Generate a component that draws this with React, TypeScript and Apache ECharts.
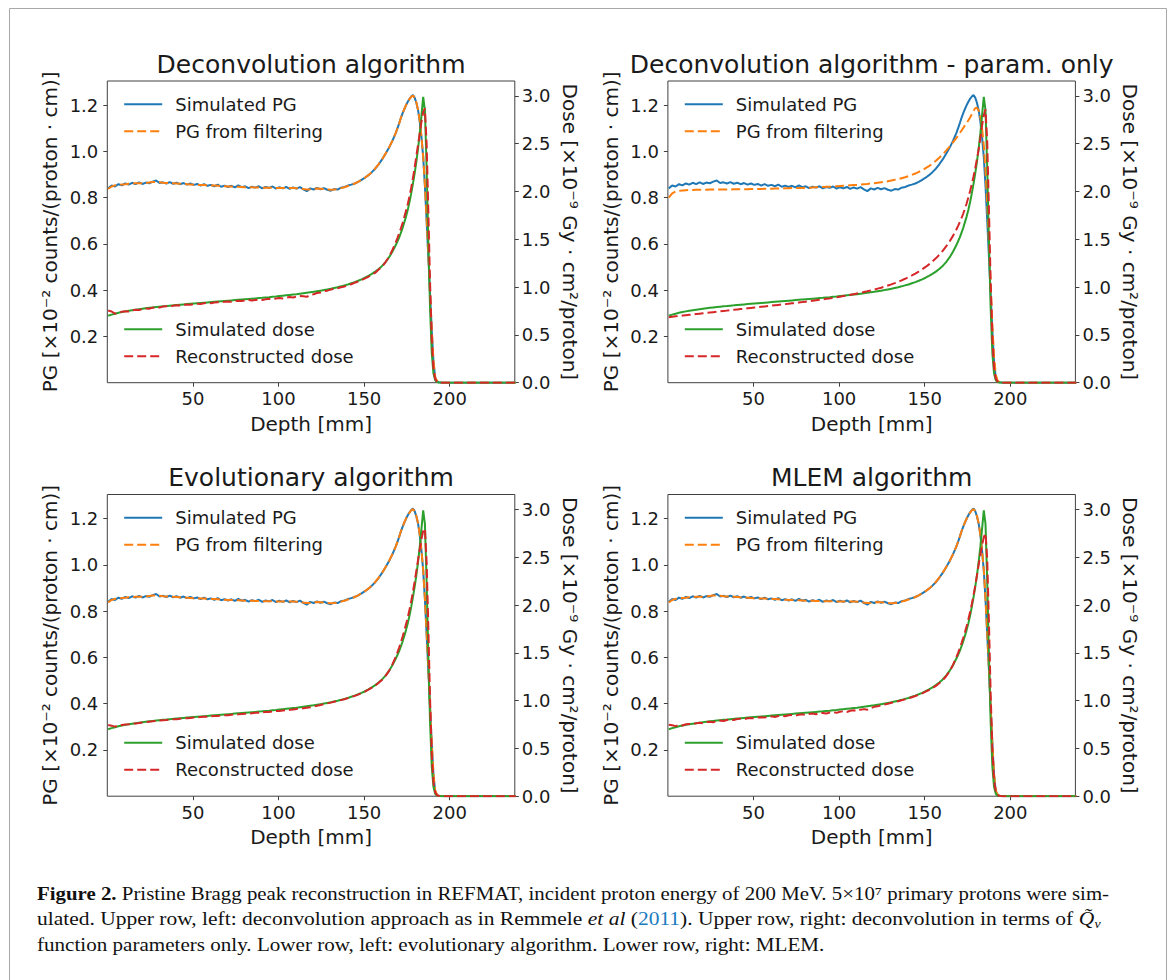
import React, { useEffect, useRef } from 'react';
import * as echarts from 'echarts';

// ---------------- data ----------------
const DEPTH = [
  0.5, 2.5, 4.5, 6.5, 8.5, 10.5, 12.5, 14.5, 16.5, 18.5,
  20.5, 22.5, 24.5, 26.5, 28.5, 30.5, 32.5, 34.5, 36.5, 38.5,
  40.5, 42.5, 44.5, 46.5, 48.5, 50.5, 52.5, 54.5, 56.5, 58.5,
  60.5, 62.5, 64.5, 66.5, 68.5, 70.5, 72.5, 74.5, 76.5, 78.5,
  80.5, 82.5, 84.5, 86.5, 88.5, 90.5, 92.5, 94.5, 96.5, 98.5,
  100.5, 102.5, 104.5, 106.5, 108.5, 110.5, 112.5, 114.5, 116.5, 118.5,
  120.5, 122.5, 124.5, 126.5, 128.5, 130.5, 132.5, 134.5, 136.5, 138.5,
  140.5, 142.5, 144.5, 146.5, 148.5, 150.5, 152.5, 154.5, 156.5, 158.5,
  160.5, 162.5, 164.5, 166.5, 168.5,
  169.5, 170.5, 171.5, 172.5, 173.5, 174.5, 175.5, 176.5, 177.5, 178.5,
  179.5, 180.5, 181.5, 182.5, 183.5, 184.5, 185.5, 186.5, 187.5, 188.5,
  189.5, 190.5, 191.5, 192.5, 193.5, 194.5, 195.5,
  200.5, 238.5,
];

const SIM_PG = [
  0.840, 0.852, 0.848, 0.858, 0.853, 0.861, 0.856, 0.864, 0.858, 0.866,
  0.859, 0.865, 0.862, 0.869, 0.874, 0.863, 0.866, 0.861, 0.867, 0.860,
  0.864, 0.858, 0.863, 0.856, 0.861, 0.855, 0.859, 0.852, 0.858, 0.851,
  0.855, 0.849, 0.856, 0.847, 0.852, 0.846, 0.851, 0.844, 0.853, 0.845,
  0.849, 0.841, 0.847, 0.843, 0.849, 0.840, 0.846, 0.842, 0.848, 0.839,
  0.845, 0.840, 0.846, 0.838, 0.844, 0.839, 0.845, 0.836, 0.828, 0.840,
  0.835, 0.842, 0.836, 0.841, 0.834, 0.830, 0.837, 0.835, 0.843, 0.846,
  0.852, 0.856, 0.861, 0.868, 0.877, 0.886, 0.897, 0.910, 0.925, 0.944,
  0.965, 0.990, 1.015, 1.045, 1.080,
  1.100, 1.122, 1.145, 1.165, 1.183, 1.200, 1.214, 1.227, 1.237, 1.243,
  1.232, 1.210, 1.178, 1.128, 1.060, 0.975, 0.850, 0.700, 0.545, 0.385,
  0.225, 0.090, 0.022, 0.006, 0.002, 0.001, 0,
  0, 0,
];

const FILT_PG = [
  0.838, 0.848, 0.853, 0.855, 0.857, 0.858, 0.860, 0.861, 0.862, 0.862,
  0.862, 0.863, 0.865, 0.867, 0.868, 0.866, 0.864, 0.863, 0.863, 0.862,
  0.861, 0.860, 0.859, 0.858, 0.857, 0.856, 0.855, 0.855, 0.854, 0.853,
  0.852, 0.852, 0.851, 0.850, 0.849, 0.848, 0.848, 0.847, 0.847, 0.846,
  0.845, 0.845, 0.845, 0.844, 0.844, 0.843, 0.843, 0.843, 0.843, 0.842,
  0.842, 0.842, 0.841, 0.841, 0.841, 0.840, 0.840, 0.837, 0.835, 0.836,
  0.838, 0.839, 0.838, 0.837, 0.835, 0.834, 0.835, 0.837, 0.841, 0.845,
  0.850, 0.855, 0.861, 0.868, 0.877, 0.886, 0.897, 0.910, 0.926, 0.945,
  0.966, 0.990, 1.016, 1.046, 1.080,
  1.100, 1.122, 1.145, 1.166, 1.184, 1.200, 1.214, 1.226, 1.236, 1.241,
  1.232, 1.211, 1.180, 1.130, 1.062, 0.978, 0.855, 0.705, 0.550, 0.390,
  0.230, 0.095, 0.025, 0.008, 0.003, 0.001, 0,
  0, 0,
];

const FILT_PG_PARAM = [
  0.800, 0.818, 0.826, 0.829, 0.831, 0.832, 0.833, 0.833, 0.834, 0.834,
  0.834, 0.834, 0.835, 0.835, 0.835, 0.835, 0.835, 0.835, 0.835, 0.836,
  0.836, 0.836, 0.836, 0.836, 0.837, 0.837, 0.837, 0.837, 0.838, 0.838,
  0.838, 0.839, 0.839, 0.839, 0.840, 0.840, 0.841, 0.841, 0.842, 0.842,
  0.843, 0.843, 0.844, 0.845, 0.845, 0.846, 0.847, 0.847, 0.848, 0.849,
  0.850, 0.851, 0.852, 0.853, 0.854, 0.855, 0.856, 0.858, 0.859, 0.861,
  0.862, 0.864, 0.866, 0.868, 0.871, 0.874, 0.877, 0.880, 0.884, 0.888,
  0.893, 0.898, 0.904, 0.911, 0.918, 0.927, 0.936, 0.947, 0.959, 0.972,
  0.987, 1.003, 1.020, 1.039, 1.058,
  1.068, 1.079, 1.090, 1.101, 1.112, 1.123, 1.134, 1.146, 1.160, 1.175,
  1.186, 1.188, 1.176, 1.148, 1.098, 1.025, 0.915, 0.770, 0.600, 0.420,
  0.250, 0.110, 0.035, 0.010, 0.003, 0.001, 0,
  0, 0,
];

const SIM_DOSE = [
  0.700, 0.712, 0.722, 0.731, 0.739, 0.746, 0.752, 0.758, 0.764, 0.769,
  0.774, 0.779, 0.783, 0.787, 0.791, 0.795, 0.799, 0.802, 0.806, 0.809,
  0.813, 0.816, 0.819, 0.822, 0.825, 0.828, 0.831, 0.834, 0.837, 0.840,
  0.843, 0.846, 0.849, 0.852, 0.855, 0.858, 0.861, 0.864, 0.867, 0.870,
  0.873, 0.876, 0.879, 0.882, 0.885, 0.888, 0.892, 0.895, 0.899, 0.902,
  0.906, 0.910, 0.914, 0.918, 0.922, 0.926, 0.931, 0.936, 0.941, 0.946,
  0.951, 0.957, 0.963, 0.969, 0.976, 0.983, 0.991, 0.999, 1.008, 1.018,
  1.028, 1.040, 1.052, 1.066, 1.081, 1.098, 1.117, 1.138, 1.162, 1.190,
  1.222, 1.262, 1.310, 1.370, 1.440,
  1.480, 1.520, 1.570, 1.620, 1.680, 1.740, 1.810, 1.890, 1.980, 2.080,
  2.190, 2.310, 2.450, 2.610, 2.800, 2.990, 2.850, 2.250, 1.480, 0.780,
  0.310, 0.095, 0.025, 0.006, 0.002, 0.001, 0,
  0, 0,
];

const RECON_DECONV = [
  0.755, 0.745, 0.722, 0.728, 0.742, 0.748, 0.745, 0.757, 0.763, 0.760,
  0.771, 0.776, 0.774, 0.785, 0.789, 0.786, 0.796, 0.800, 0.797, 0.806,
  0.809, 0.808, 0.815, 0.817, 0.815, 0.822, 0.826, 0.824, 0.831, 0.834,
  0.832, 0.839, 0.842, 0.840, 0.846, 0.849, 0.846, 0.853, 0.857, 0.855,
  0.861, 0.864, 0.860, 0.866, 0.870, 0.866, 0.873, 0.877, 0.873, 0.881,
  0.886, 0.882, 0.890, 0.896, 0.892, 0.901, 0.908, 0.905, 0.898, 0.918,
  0.926, 0.938, 0.944, 0.958, 0.963, 0.974, 0.982, 0.989, 0.998, 1.007,
  1.019, 1.030, 1.046, 1.058, 1.073, 1.092, 1.108, 1.132, 1.150, 1.185,
  1.214, 1.262, 1.315, 1.388, 1.470,
  1.515, 1.565, 1.615, 1.672, 1.735, 1.800, 1.870, 1.950, 2.040, 2.140,
  2.250, 2.370, 2.490, 2.610, 2.730, 2.830, 2.870, 2.500, 1.800, 1.050,
  0.450, 0.140, 0.040, 0.012, 0.004, 0.001, 0,
  0, 0,
];

const RECON_PARAM = [
  0.685, 0.690, 0.694, 0.698, 0.702, 0.706, 0.710, 0.714, 0.718, 0.722,
  0.726, 0.730, 0.734, 0.738, 0.742, 0.746, 0.750, 0.754, 0.758, 0.762,
  0.766, 0.770, 0.774, 0.778, 0.782, 0.786, 0.790, 0.794, 0.798, 0.802,
  0.806, 0.810, 0.814, 0.818, 0.822, 0.826, 0.830, 0.834, 0.839, 0.843,
  0.848, 0.852, 0.857, 0.862, 0.867, 0.872, 0.877, 0.882, 0.888, 0.894,
  0.900, 0.906, 0.912, 0.919, 0.926, 0.933, 0.940, 0.948, 0.956, 0.965,
  0.974, 0.984, 0.994, 1.005, 1.017, 1.029, 1.042, 1.056, 1.071, 1.087,
  1.104, 1.122, 1.142, 1.163, 1.186, 1.211, 1.238, 1.268, 1.301, 1.338,
  1.379, 1.425, 1.477, 1.536, 1.603,
  1.640, 1.680, 1.723, 1.770, 1.821, 1.877, 1.938, 2.005, 2.078, 2.158,
  2.245, 2.340, 2.440, 2.560, 2.690, 2.800, 2.860, 2.520, 1.820, 1.060,
  0.460, 0.150, 0.045, 0.013, 0.004, 0.001, 0,
  0, 0,
];

const RECON_EVO = [
  0.745, 0.738, 0.728, 0.735, 0.745, 0.749, 0.752, 0.758, 0.761, 0.766,
  0.772, 0.774, 0.779, 0.784, 0.786, 0.791, 0.795, 0.797, 0.801, 0.805,
  0.806, 0.811, 0.814, 0.815, 0.819, 0.822, 0.823, 0.828, 0.831, 0.832,
  0.836, 0.839, 0.840, 0.844, 0.847, 0.848, 0.852, 0.855, 0.856, 0.860,
  0.863, 0.864, 0.868, 0.872, 0.873, 0.877, 0.881, 0.882, 0.887, 0.891,
  0.892, 0.897, 0.901, 0.903, 0.908, 0.913, 0.915, 0.921, 0.926, 0.930,
  0.937, 0.946, 0.955, 0.963, 0.971, 0.979, 0.988, 0.996, 1.005, 1.015,
  1.026, 1.037, 1.050, 1.063, 1.079, 1.095, 1.114, 1.135, 1.158, 1.186,
  1.218, 1.258, 1.308, 1.378, 1.460,
  1.507, 1.558, 1.612, 1.670, 1.733, 1.800, 1.872, 1.952, 2.040, 2.137,
  2.243, 2.357, 2.472, 2.585, 2.690, 2.775, 2.800, 2.450, 1.760, 1.020,
  0.440, 0.140, 0.040, 0.012, 0.004, 0.001, 0,
  0, 0,
];

const RECON_MLEM = [
  0.748, 0.742, 0.733, 0.745, 0.740, 0.752, 0.756, 0.751, 0.764, 0.768,
  0.762, 0.775, 0.779, 0.774, 0.787, 0.791, 0.786, 0.797, 0.802, 0.797,
  0.807, 0.811, 0.806, 0.816, 0.819, 0.814, 0.824, 0.827, 0.822, 0.832,
  0.835, 0.829, 0.839, 0.842, 0.836, 0.846, 0.849, 0.843, 0.853, 0.856,
  0.850, 0.861, 0.864, 0.857, 0.868, 0.871, 0.864, 0.876, 0.879, 0.872,
  0.884, 0.888, 0.881, 0.894, 0.898, 0.891, 0.905, 0.911, 0.905, 0.922,
  0.935, 0.940, 0.951, 0.960, 0.968, 0.977, 0.985, 0.994, 1.003, 1.013,
  1.024, 1.035, 1.048, 1.061, 1.076, 1.093, 1.111, 1.131, 1.154, 1.182,
  1.214, 1.255, 1.305, 1.374, 1.455,
  1.500, 1.549, 1.601, 1.657, 1.717, 1.781, 1.850, 1.926, 2.010, 2.102,
  2.202, 2.310, 2.420, 2.530, 2.630, 2.710, 2.750, 2.480, 1.820, 1.080,
  0.480, 0.160, 0.048, 0.014, 0.004, 0.001, 0,
  0, 0,
];

const PANEL_TITLES = [
  'Deconvolution algorithm',
  'Deconvolution algorithm - param. only',
  'Evolutionary algorithm',
  'MLEM algorithm',
];
const SERIES_NAMES = ['Simulated PG', 'PG from filtering', 'Simulated dose', 'Reconstructed dose'];
const X_TICKS = [50, 100, 150, 200];
const PG_TICKS = [0.2, 0.4, 0.6, 0.8, 1.0, 1.2];
const DOSE_TICKS = [0, 0.5, 1.0, 1.5, 2.0, 2.5, 3.0];
const X_NAME = 'Depth [mm]';
const PG_NAME = 'PG [×10⁻² counts/(proton · cm)]';
const DOSE_NAME = 'Dose [×10⁻⁹ Gy · cm²/proton]';

const CAPTION_LINES = [
  [
    { t: 'Figure 2.', s: 'b' },
    { t: ' Pristine Bragg peak reconstruction in REFMAT, incident proton energy of 200 MeV. 5×10⁷ primary protons were sim-' },
  ],
  [
    { t: 'ulated. Upper row, left: deconvolution approach as in Remmele ' },
    { t: 'et al', s: 'i' },
    { t: ' (' },
    { t: '2011', s: 'c' },
    { t: '). Upper row, right: deconvolution in terms of ' },
    { t: 'Q̃', s: 'i' },
  ],
  [
    { t: 'function parameters only. Lower row, left: evolutionary algorithm. Lower row, right: MLEM.' },
  ],
];
const CAPTION_SUB = 'ν';

// ---------------- layout / style ----------------
const W = 1170;
const H = 980;
const COL_LEFT = [107.3, 667.9];
const ROW_TOP = [81, 494.5];
const PLOT_W = 407.5;
const PLOT_H = 301.7;
const X_MIN = 0;
const X_MAX = 238;
const PG_MAX = 1.304;
const DOSE_MAX = 3.156;
const BLUE = '#1f77b4';
const ORANGE = '#ff7f0e';
const GREEN = '#2ca02c';
const RED = '#d62728';
const TEXT = '#1a1a1a';
const AXIS = '#404040';
const FONT = 'DejaVu Sans';
const SERIF = 'Liberation Serif';
const DASH = [9, 4];
const CAP_X = 37;
const CAP_Y = [893, 919, 944];
const CAP_END = [1110, 1094, 825];
const CAP_SIZE = 18.5;

const PANELS = [
  { title: PANEL_TITLES[0], filt: FILT_PG, recon: RECON_DECONV, col: 0, row: 0 },
  { title: PANEL_TITLES[1], filt: FILT_PG_PARAM, recon: RECON_PARAM, col: 1, row: 0 },
  { title: PANEL_TITLES[2], filt: FILT_PG, recon: RECON_EVO, col: 0, row: 1 },
  { title: PANEL_TITLES[3], filt: FILT_PG, recon: RECON_MLEM, col: 1, row: 1 },
];

const pairs = (vals: number[]) => DEPTH.map((d, i) => [d, vals[i]]);
const near = (v: number, list: number[]) => list.some((t) => Math.abs(t - v) < 1e-6);

function buildOption() {
  const grid: any[] = [];
  const xAxis: any[] = [];
  const yAxis: any[] = [];
  const series: any[] = [];
  const legend: any[] = [];
  const graphic: any[] = [];

  PANELS.forEach((p, i) => {
    const left = COL_LEFT[p.col];
    const top = ROW_TOP[p.row];
    grid.push({
      left, top, width: PLOT_W, height: PLOT_H,
      show: true, borderColor: AXIS, borderWidth: 1, backgroundColor: 'transparent',
      containLabel: false, outerBoundsMode: 'none',
    });
    const tickStyle = { show: true, length: 4, inside: false, lineStyle: { color: AXIS, width: 1 } };
    xAxis.push({
      type: 'value', gridIndex: i, min: X_MIN, max: X_MAX, interval: 50,
      name: X_NAME, nameLocation: 'middle', nameGap: 31,
      nameTextStyle: { fontSize: 20, color: TEXT, fontFamily: FONT },
      axisLine: { show: false },
      axisTick: { ...tickStyle, customValues: X_TICKS },
      axisLabel: {
        fontSize: 18, color: TEXT, fontFamily: FONT, margin: 7, customValues: X_TICKS,
        formatter: (v: number) => (near(v, X_TICKS) ? String(Math.round(v)) : ''),
      },
      splitLine: { show: false },
    });
    yAxis.push({
      type: 'value', gridIndex: i, position: 'left', min: 0, max: PG_MAX, interval: 0.2,
      name: PG_NAME, nameLocation: 'middle', nameGap: 47, nameRotate: 90,
      nameTextStyle: { fontSize: 20, color: TEXT, fontFamily: FONT },
      axisLine: { show: false },
      axisTick: { ...tickStyle, customValues: PG_TICKS },
      axisLabel: {
        fontSize: 18, color: TEXT, fontFamily: FONT, margin: 9, customValues: PG_TICKS,
        formatter: (v: number) => (near(v, PG_TICKS) ? v.toFixed(1) : ''),
      },
      splitLine: { show: false },
    });
    yAxis.push({
      type: 'value', gridIndex: i, position: 'right', min: 0, max: DOSE_MAX, interval: 0.5,
      name: DOSE_NAME, nameLocation: 'middle', nameGap: 45, nameRotate: -90,
      nameTextStyle: { fontSize: 20, color: TEXT, fontFamily: FONT },
      axisLine: { show: false },
      axisTick: { ...tickStyle, customValues: DOSE_TICKS },
      axisLabel: {
        fontSize: 18, color: TEXT, fontFamily: FONT, margin: 7, customValues: DOSE_TICKS,
        formatter: (v: number) => (near(v, DOSE_TICKS) ? v.toFixed(1) : ''),
      },
      splitLine: { show: false },
    });

    const common = { type: 'line', xAxisIndex: i, showSymbol: false, symbol: 'none', silent: true, smooth: false };
    series.push({ ...common, name: SERIES_NAMES[0], yAxisIndex: 2 * i, data: pairs(SIM_PG),
      lineStyle: { color: BLUE, width: 2 }, itemStyle: { color: BLUE } });
    series.push({ ...common, name: SERIES_NAMES[1], yAxisIndex: 2 * i, data: pairs(p.filt),
      lineStyle: { color: ORANGE, width: 2, type: DASH }, itemStyle: { color: ORANGE } });
    series.push({ ...common, name: SERIES_NAMES[2], yAxisIndex: 2 * i + 1, data: pairs(SIM_DOSE),
      lineStyle: { color: GREEN, width: 2 }, itemStyle: { color: GREEN } });
    series.push({ ...common, name: SERIES_NAMES[3], yAxisIndex: 2 * i + 1, data: pairs(p.recon),
      lineStyle: { color: RED, width: 2, type: DASH }, itemStyle: { color: RED } });

    const legendBase = {
      orient: 'vertical', left: left + 15.9, itemWidth: 38, itemHeight: 14, itemGap: 9, padding: 0,
      selectedMode: false, backgroundColor: 'transparent', borderWidth: 0,
      itemStyle: { opacity: 0, borderWidth: 0 },
      textStyle: { fontSize: 18, color: TEXT, fontFamily: FONT, padding: [0, 0, 0, 8] },
    };
    legend.push({ ...legendBase, top: top + 14.3, data: [SERIES_NAMES[0], SERIES_NAMES[1]] });
    legend.push({ ...legendBase, top: top + 239.3, data: [SERIES_NAMES[2], SERIES_NAMES[3]] });

    graphic.push({
      type: 'text', x: left + PLOT_W / 2, y: top - 17, silent: true,
      style: { text: p.title, fontSize: 25, fontFamily: FONT, fill: TEXT, align: 'center', verticalAlign: 'middle' },
    });
  });

  // caption
  const ctx = document.createElement('canvas').getContext('2d') as CanvasRenderingContext2D;
  const fontFor = (s?: string) =>
    `${s === 'i' ? 'italic ' : ''}${s === 'b' ? 'bold ' : ''}${CAP_SIZE}px "${SERIF}"`;
  CAPTION_LINES.forEach((segs, li) => {
    let width = 0;
    segs.forEach((sg: any) => {
      ctx.font = fontFor(sg.s);
      width += ctx.measureText(sg.t).width;
    });
    const scale = (CAP_END[li] - CAP_X) / width;
    const text = segs.map((sg: any) => (sg.s ? `{${sg.s}|${sg.t}}` : sg.t)).join('');
    graphic.push({
      type: 'text', x: CAP_X, y: CAP_Y[li], scaleX: scale, silent: true,
      style: {
        text, fontSize: CAP_SIZE, fontFamily: SERIF, fill: '#111', align: 'left', verticalAlign: 'middle',
        rich: {
          b: { fontWeight: 'bold', fontSize: CAP_SIZE, fontFamily: SERIF, fill: '#111' },
          i: { fontStyle: 'italic', fontSize: CAP_SIZE, fontFamily: SERIF, fill: '#111' },
          c: { fontSize: CAP_SIZE, fontFamily: SERIF, fill: '#1a7bbf' },
        },
      },
    });
    if (li === 1) {
      graphic.push({
        type: 'text', x: CAP_END[li] + 0.5, y: CAP_Y[li] + 5, scaleX: scale, silent: true,
        style: { text: CAPTION_SUB, fontSize: 12, fontStyle: 'italic', fontFamily: SERIF, fill: '#111', align: 'left', verticalAlign: 'middle' },
      });
    }
  });

  // figure frame
  graphic.push({
    type: 'rect', silent: true, z: -10,
    shape: { x: 9.5, y: 8.5, width: 1157, height: 1000 },
    style: { fill: 'none', stroke: '#a8a8a8', lineWidth: 1 },
  });

  return {
    animation: false,
    backgroundColor: '#ffffff',
    textStyle: { fontFamily: FONT },
    grid, xAxis, yAxis, series, legend, graphic,
    tooltip: { show: false },
  };
}

export default function App() {
  const ref = useRef<HTMLDivElement>(null);
  useEffect(() => {
    document.body.style.margin = '0';
    if (!ref.current) return;
    const chart = echarts.init(ref.current, undefined, { renderer: 'svg', width: W, height: H });
    chart.setOption(buildOption() as any);
    return () => chart.dispose();
  }, []);
  return <div ref={ref} style={{ width: W, height: H }} />;
}
